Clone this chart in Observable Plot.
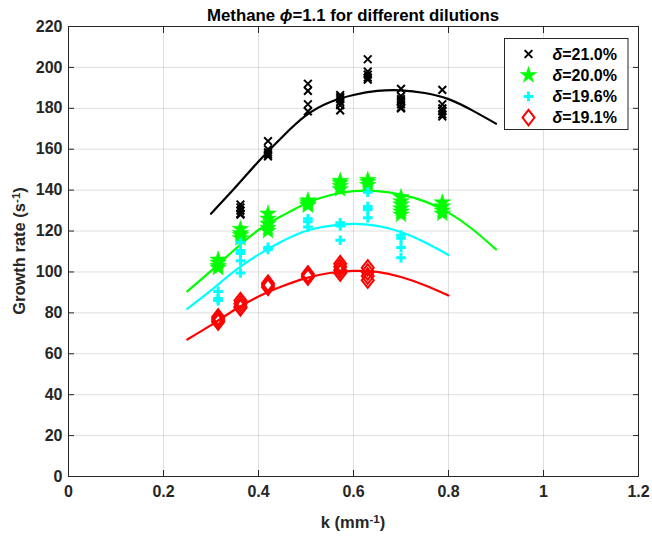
<!DOCTYPE html>
<html>
<head>
<meta charset="utf-8">
<script src="https://cdn.jsdelivr.net/npm/d3@7"></script>
<script src="https://cdn.jsdelivr.net/npm/@observablehq/plot@0.6"></script>
<style>
  body { margin: 0; background: #fff; }
  #chart svg { font-family: "Liberation Sans", Arial, Helvetica, sans-serif; }
</style>
</head>
<body>
<div id="chart"></div>
<script>
// ---- data ----
const titleText = ["Methane ", "ϕ", "=1.1 for different dilutions"];
const xLabelText = ["k (mm", "-1", ")"];
const yLabelText = ["Growth rate (s", "-1", ")"];

const xTicks = [0, 0.2, 0.4, 0.6, 0.8, 1, 1.2];
const xTickLabels = ["0", "0.2", "0.4", "0.6", "0.8", "1", "1.2"];
const yTicks = [0, 20, 40, 60, 80, 100, 120, 140, 160, 180, 200, 220];
const yTickLabels = ["0", "20", "40", "60", "80", "100", "120", "140", "160", "180", "200", "220"];

const seriesNames = ["δ=21.0%", "δ=20.0%", "δ=19.6%", "δ=19.1%"];
const seriesColors = ["#000000", "#00ff00", "#00ffff", "#ff0000"];

// measured k positions (mm^-1)
const kLevels = [0.315, 0.362, 0.42, 0.504, 0.572, 0.63, 0.70, 0.787];

// measured growth rates (s^-1) per k level, one list per dilution
const rates210 = [
  [],
  [133, 131.5, 130, 128.5, 128],
  [164, 160, 158.5, 157.5, 156.5],
  [192, 188.5, 182, 178.5],
  [186.5, 185.5, 184.5, 183, 181.5, 179],
  [204, 198, 196.5, 195, 194],
  [189.5, 186, 184.5, 183.5, 182, 180.5, 180],
  [189, 182, 180, 178.5, 177, 176]
];
const rates200 = [
  [106, 104.5, 103, 102],
  [121, 119, 118, 116.5],
  [128.5, 126, 123.5, 121.5, 120],
  [135, 134, 133, 132.5],
  [144.5, 143.5, 142, 140.5],
  [145, 144, 142.5],
  [136.5, 134.5, 133, 131, 129.5, 128],
  [134, 132, 130, 128.5]
];
const rates196 = [
  [90.5, 87, 86.5, 86],
  [114.5, 110.5, 109, 105.5, 99.5],
  [112, 111],
  [126, 124.5, 122],
  [124, 122.5, 115.5],
  [139, 132, 130.5, 126.5],
  [118, 116.5, 112, 107],
  []
];
const rates191 = [
  [78, 77, 76, 75.5],
  [86, 84.5, 83, 82.5],
  [94.5, 93.5, 92.5],
  [99, 98, 97.5],
  [104, 102.5, 101, 99.5],
  [102, 100, 98, 96],
  [],
  []
];

// fitted curves
const fitK210 = [0.30, 0.35, 0.40, 0.45, 0.50, 0.55, 0.60, 0.65, 0.70, 0.75, 0.80, 0.85, 0.90];
const fitR210 = [128.5, 141, 154, 166, 176.5, 183, 186.5, 188.5, 188.8, 187.5, 184.5, 179, 172.5];
const fitK200 = [0.25, 0.30, 0.35, 0.40, 0.45, 0.50, 0.55, 0.60, 0.65, 0.70, 0.75, 0.80, 0.85, 0.90];
const fitR200 = [90.5, 100.5, 111, 120.5, 127.5, 133.5, 137.5, 139.5, 139.5, 137.8, 134.5, 129, 121, 111];
const fitK196 = [0.25, 0.30, 0.35, 0.40, 0.45, 0.50, 0.55, 0.60, 0.65, 0.70, 0.75, 0.80];
const fitR196 = [82, 91, 100.5, 108.5, 115, 120, 122.5, 123.5, 122.5, 119.5, 114.5, 108.3];
const fitK191 = [0.25, 0.30, 0.35, 0.40, 0.45, 0.50, 0.55, 0.60, 0.65, 0.70, 0.75, 0.80];
const fitR191 = [67, 74, 81.5, 88, 93, 97, 99.5, 100.5, 100, 97.5, 93.5, 88.5];

// ---- build tables ----
const toPoints = (rates) => rates.flatMap((list, i) => list.map(r => ({k: kLevels[i], rate: r})));
const toCurve = (ks, rs) => ks.map((k, i) => ({k, rate: rs[i]}));

const pts210 = toPoints(rates210), pts200 = toPoints(rates200);
const pts196 = toPoints(rates196), pts191 = toPoints(rates191);
const fit210 = toCurve(fitK210, fitR210), fit200 = toCurve(fitK200, fitR200);
const fit196 = toCurve(fitK196, fitR196), fit191 = toCurve(fitK191, fitR191);

const diamondTall = {
  draw(ctx, size) {
    const s = Math.sqrt(size / Math.PI);
    const w = s, h = s * 1.3;
    ctx.moveTo(0, -h); ctx.lineTo(w, 0); ctx.lineTo(0, h); ctx.lineTo(-w, 0); ctx.closePath();
  }
};

const axisColor = "#262626";
const fontFamily = '"Liberation Sans", Arial, Helvetica, sans-serif';
const W = 652, H = 536;
const mL = 68, mR = 14, mT = 26, mB = 60;

const plot = Plot.plot({
  width: W,
  height: H,
  marginLeft: mL,
  marginRight: mR,
  marginTop: mT,
  marginBottom: mB,
  style: {fontFamily, background: "white"},
  x: {domain: [0, 1.2]},
  y: {domain: [0, 220]},
  marks: [
    Plot.gridX(xTicks, {stroke: axisColor, strokeOpacity: 0.15}),
    Plot.gridY(yTicks, {stroke: axisColor, strokeOpacity: 0.15}),
    // tick labels
    Plot.axisX({ticks: xTicks, tickFormat: d => xTickLabels[xTicks.indexOf(d)], tickSize: 0, tickPadding: 9,
      fontSize: 16, fontWeight: "bold", fill: axisColor, label: null}),
    Plot.axisY({ticks: yTicks, tickFormat: d => yTickLabels[yTicks.indexOf(d)], tickSize: 0, tickPadding: 6,
      fontSize: 16, fontWeight: "bold", fill: axisColor, label: null}),
    // inward tick marks on all four sides
    Plot.axisX({anchor: "bottom", ticks: xTicks, tickSize: -6, tickFormat: () => "", stroke: axisColor, label: null}),
    Plot.axisX({anchor: "top", ticks: xTicks, tickSize: -6, tickFormat: () => "", stroke: axisColor, label: null}),
    Plot.axisY({anchor: "left", ticks: yTicks, tickSize: -6, tickFormat: () => "", stroke: axisColor, label: null}),
    Plot.axisY({anchor: "right", ticks: yTicks, tickSize: -6, tickFormat: () => "", stroke: axisColor, label: null}),
    Plot.frame({stroke: axisColor, strokeWidth: 1}),
    // series
    Plot.dot(pts210, {x: "k", y: "rate", symbol: "times", r: 3.6, stroke: seriesColors[0], strokeWidth: 2}),
    Plot.line(fit210, {x: "k", y: "rate", stroke: seriesColors[0], strokeWidth: 2.2, curve: "natural"}),
    Plot.dot(pts200, {x: "k", y: "rate", symbol: "star", r: 5.2, fill: seriesColors[1], stroke: seriesColors[1], strokeWidth: 0.5}),
    Plot.line(fit200, {x: "k", y: "rate", stroke: seriesColors[1], strokeWidth: 2.2, curve: "natural"}),
    Plot.dot(pts196, {x: "k", y: "rate", symbol: "plus", r: 3.2, stroke: seriesColors[2], strokeWidth: 3}),
    Plot.line(fit196, {x: "k", y: "rate", stroke: seriesColors[2], strokeWidth: 2.2, curve: "natural"}),
    Plot.dot(pts191, {x: "k", y: "rate", symbol: diamondTall, r: 6, fill: "none", stroke: seriesColors[3], strokeWidth: 2}),
    Plot.line(fit191, {x: "k", y: "rate", stroke: seriesColors[3], strokeWidth: 2.2, curve: "natural"})
  ]
});

document.getElementById("chart").appendChild(plot);

// ---- title, axis labels and legend as real text ----
const svg = d3.select(plot);
const cx = mL + (W - mL - mR) / 2;
const cy = mT + (H - mT - mB) / 2;

const title = svg.append("text")
  .attr("x", cx).attr("y", 20.5)
  .attr("text-anchor", "middle")
  .attr("font-size", 16.8).attr("font-weight", "bold").attr("fill", "#000")
  .style("font-family", fontFamily);
title.append("tspan").text(titleText[0]);
title.append("tspan").attr("font-style", "italic").text(titleText[1]);
title.append("tspan").text(titleText[2]);

function supLabel(sel, parts) {
  sel.append("tspan").text(parts[0]);
  sel.append("tspan").attr("font-size", "0.7em").attr("dy", "-0.45em").text(parts[1]);
  sel.append("tspan").attr("dy", "0.315em").text(parts[2]);
}

const xl = svg.append("text")
  .attr("x", cx).attr("y", 528)
  .attr("text-anchor", "middle")
  .attr("font-size", 16.5).attr("font-weight", "bold").attr("fill", axisColor)
  .style("font-family", fontFamily);
supLabel(xl, xLabelText);

const yl = svg.append("text")
  .attr("transform", `translate(25,${cy}) rotate(-90)`)
  .attr("text-anchor", "middle")
  .attr("font-size", 16.5).attr("font-weight", "bold").attr("fill", axisColor)
  .style("font-family", fontFamily);
supLabel(yl, yLabelText);

// legend
const lg = svg.append("g").attr("text-anchor", "start");
lg.append("rect")
  .attr("x", 504.5).attr("y", 38.5).attr("width", 123.5).attr("height", 91)
  .attr("fill", "white").attr("stroke", axisColor).attr("stroke-width", 1);
const legendSymbols = [
  {type: d3.symbolTimes, r: 3.6, fill: "none", strokeWidth: 2},
  {type: d3.symbolStar, r: 5.2, fill: seriesColors[1], strokeWidth: 0.5},
  {type: d3.symbolPlus, r: 3.2, fill: "none", strokeWidth: 3},
  {type: diamondTall, r: 6, fill: "none", strokeWidth: 2}
];
seriesNames.forEach((name, i) => {
  const y = 54 + i * 21.2;
  const s = legendSymbols[i];
  lg.append("path")
    .attr("transform", `translate(528.5,${y})`)
    .attr("d", d3.symbol(s.type, s.r * s.r * Math.PI)())
    .attr("fill", s.fill).attr("stroke", seriesColors[i]).attr("stroke-width", s.strokeWidth);
  const t = lg.append("text")
    .attr("x", 552.5).attr("y", y).attr("dy", "0.36em")
    .attr("text-anchor", "start")
    .attr("font-size", 16).attr("font-weight", "bold").attr("fill", "#000")
    .style("font-family", fontFamily);
  t.append("tspan").attr("font-style", "italic").text(name.slice(0, 1));
  t.append("tspan").text(name.slice(1));
});
</script>
</body>
</html>
